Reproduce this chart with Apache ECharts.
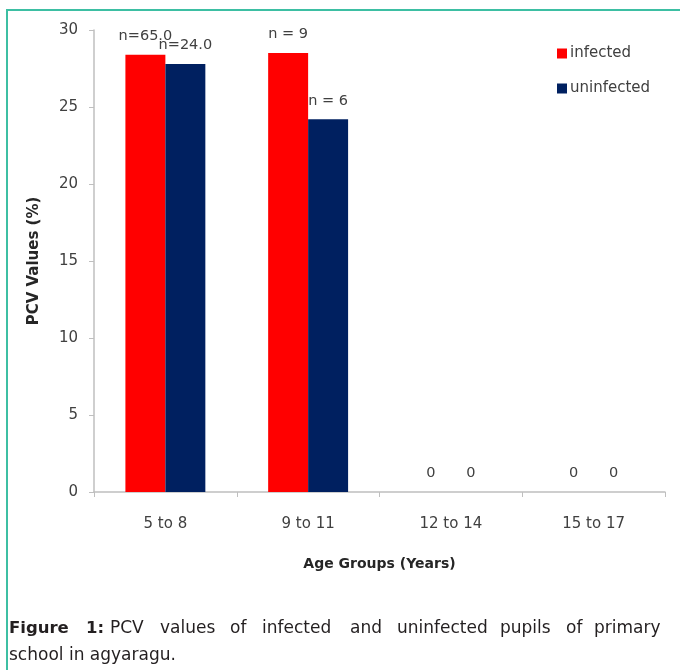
<!DOCTYPE html>
<html>
<head>
<meta charset="utf-8">
<style>
html,body{margin:0;padding:0;background:#fff;}
#chart{width:680px;height:670px;}
</style>
<script src="https://cdn.jsdelivr.net/npm/echarts@6/dist/echarts.min.js"></script>
</head>
<body>
<div id="chart"></div>
<script>
const categories = ['5 to 8', '9 to 11', '12 to 14', '15 to 17'];
const infected = [28.4, 28.5, 0, 0];
const uninfected = [27.8, 24.2, 0, 0];
const infectedLabels = ['n=65.0', 'n = 9', '0', '0'];
const uninfectedLabels = ['n=24.0', 'n = 6', '0', '0'];
const yTicks = [0, 5, 10, 15, 20, 25, 30];

const FONT = '"DejaVu Sans", "Open Sans", sans-serif';
const chart = echarts.init(document.getElementById('chart'));

const captionLine1 = [
  ['Figure', 9, true], ['1:', 86, true], ['PCV', 110, false], ['values', 160, false],
  ['of', 230, false], ['infected', 262, false], ['and', 350, false], ['uninfected', 397, false],
  ['pupils', 500, false], ['of', 566, false], ['primary', 594, false]
];
const graphics = [{
  type: 'rect', silent: true,
  shape: { x: 7, y: 10, width: 700, height: 700 },
  style: { fill: 'none', stroke: '#3dbfa3', lineWidth: 2 }
}];
captionLine1.forEach(w => graphics.push({
  type: 'text', left: w[1], top: w[2] ? 620 : 620,
  style: { text: w[0], fontFamily: FONT, fontSize: w[2] ? 16.5 : 17, fontWeight: w[2] ? 'bold' : 'normal', fill: '#231f20' }
}));
graphics.push({
  type: 'text', left: 9, top: 647,
  style: { text: 'school in agyaragu.', fontFamily: FONT, fontSize: 17, fill: '#231f20' }
});

function mkLabels(arr) {
  return {
    show: true, position: 'top', distance: 11,
    fontFamily: FONT, fontSize: 14.5, color: '#404040',
    formatter: p => arr[p.dataIndex]
  };
}

chart.setOption({
  animation: false,
  backgroundColor: '#fff',
  textStyle: { fontFamily: FONT },
  grid: { left: 94, right: 15, top: 30, bottom: 178 },
  legend: {
    orient: 'vertical', left: 552, top: 41,
    icon: 'rect', itemWidth: 10, itemHeight: 10, itemGap: 20,
    textStyle: { fontFamily: FONT, fontSize: 15, color: '#404040', padding: [0, 0, 0, -2] },
    data: ['infected', 'uninfected']
  },
  xAxis: {
    type: 'category', data: categories,
    name: 'Age Groups (Years)', nameLocation: 'middle', nameGap: 65,
    nameTextStyle: { fontFamily: FONT, fontSize: 14, fontWeight: 'bold', color: '#262626' },
    axisLine: { lineStyle: { color: '#bfbfbf', width: 1.5 } },
    axisTick: { show: true, length: 5, lineStyle: { color: '#bfbfbf' } },
    axisLabel: { margin: 25, fontFamily: FONT, fontSize: 15, color: '#404040' }
  },
  yAxis: {
    type: 'value', min: 0, max: 30, interval: 5,
    name: 'PCV Values (%)', nameLocation: 'middle', nameGap: 52,
    nameTextStyle: { fontFamily: FONT, fontSize: 15, fontWeight: 'bold', color: '#262626' },
    axisLine: { show: true, lineStyle: { color: '#bfbfbf', width: 1.5 } },
    axisTick: { show: true, length: 5, lineStyle: { color: '#bfbfbf' } },
    splitLine: { show: false },
    axisLabel: { margin: 16, fontFamily: FONT, fontSize: 15, color: '#404040',
      formatter: v => yTicks.includes(v) ? String(v) : '' }
  },
  series: [
    { name: 'infected', type: 'bar', data: infected, barGap: '0%', barCategoryGap: '44%',
      itemStyle: { color: '#ff0000' }, label: mkLabels(infectedLabels) },
    { name: 'uninfected', type: 'bar', data: uninfected,
      itemStyle: { color: '#002060' }, label: mkLabels(uninfectedLabels) }
  ],
  graphic: graphics
});
</script>
</body>
</html>
